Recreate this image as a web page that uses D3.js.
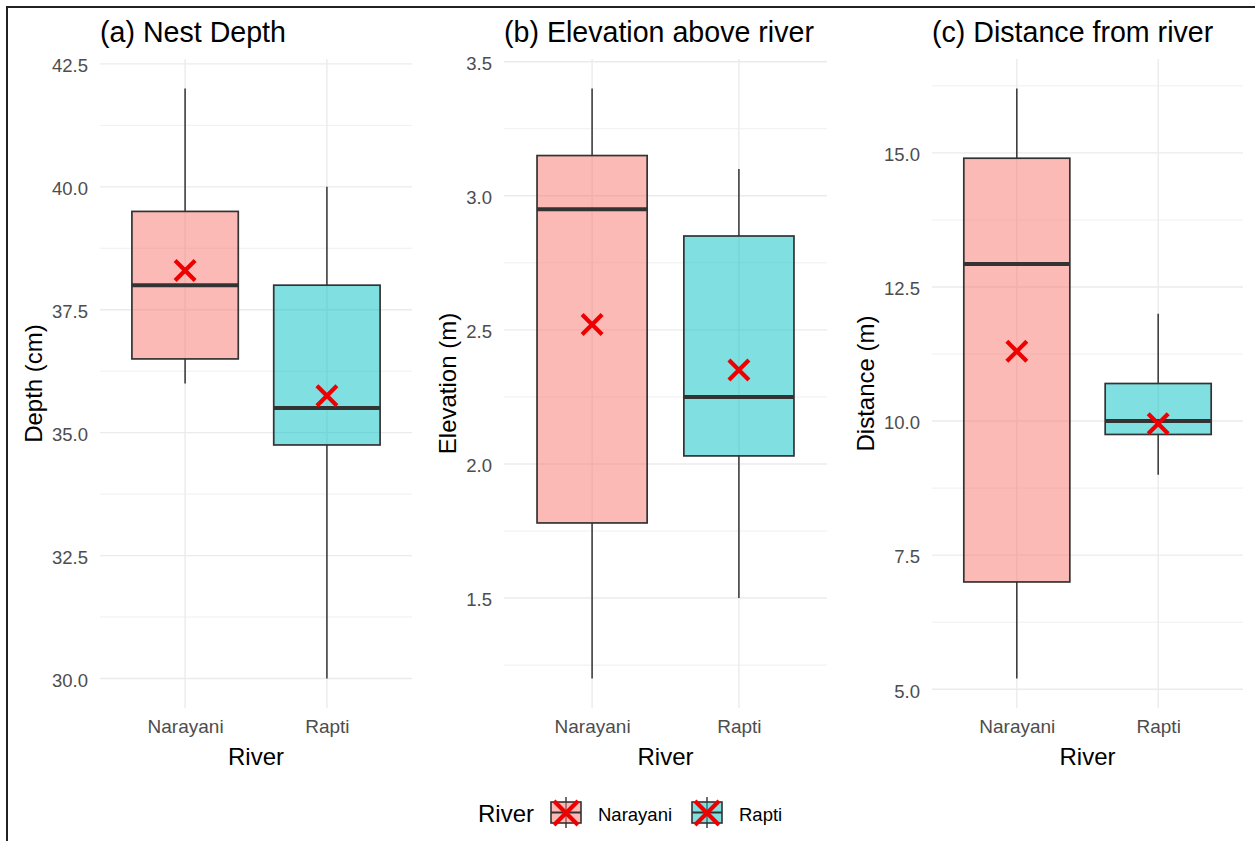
<!DOCTYPE html>
<html>
<head>
<meta charset="utf-8">
<script src="https://cdn.jsdelivr.net/npm/d3@7/dist/d3.min.js"></script>
<style>
  html, body { margin: 0; padding: 0; background: #fff; }
  svg { display: block; font-family: "Liberation Sans", Arial, sans-serif; }
</style>
</head>
<body>
<div id="chart"></div>
<script>
/* ---- data -------------------------------------------------------------- */
const rivers = ['Narayani', 'Rapti'];

// [lower whisker, Q1, median, Q3, upper whisker]
const depthBox = [[36, 36.5, 38.0, 39.5, 42], [30, 34.75, 35.5, 38.0, 40]];
const depthMean = [38.3, 35.75];
const depthTicks = [30, 32.5, 35, 37.5, 40, 42.5];

const elevBox = [[1.2, 1.78, 2.95, 3.15, 3.4], [1.5, 2.03, 2.25, 2.85, 3.1]];
const elevMean = [2.52, 2.35];
const elevTicks = [1.5, 2.0, 2.5, 3.0, 3.5];

const distBox = [[5.2, 7.0, 12.93, 14.9, 16.2], [9.0, 9.75, 10.0, 10.7, 12.0]];
const distMean = [11.3, 9.95];
const distTicks = [5.0, 7.5, 10.0, 12.5, 15.0];

const panelTitles = ['(a) Nest Depth', '(b) Elevation above river', '(c) Distance from river'];
const yTitles = ['Depth (cm)', 'Elevation (m)', 'Distance (m)'];

/* ---- look ---------------------------------------------------------------- */
const W = 1255, H = 841;
const fills = ['#F8766D', '#00BFC4'];
const ink = '#333333';
const grid = '#ebebeb';
const markRed = '#ee0000';
const plotTop = 59, plotBottom = 708;
const frames = [[100, 412], [504, 827], [932, 1243]];

const svg = d3.select('#chart').append('svg').attr('width', W).attr('height', H);
svg.append('rect').attr('width', W).attr('height', H).attr('fill', '#fff');

/* outer frame (only left/top edges are in view) */
svg.append('rect').attr('x', 7).attr('y', 7).attr('width', 1400).attr('height', 1000)
  .attr('fill', 'none').attr('stroke', '#222').attr('stroke-width', 2);

function cross(g, cx, cy, r, w) {
  g.append('path')
    .attr('d', 'M' + (cx - r) + ',' + (cy - r) + 'L' + (cx + r) + ',' + (cy + r) +
               'M' + (cx - r) + ',' + (cy + r) + 'L' + (cx + r) + ',' + (cy - r))
    .attr('stroke', markRed).attr('stroke-width', w).attr('fill', 'none');
}

function drawPanel(i, boxes, means, ticks) {
  const x0 = frames[i][0], x1 = frames[i][1];
  const g = svg.append('g');

  const lo = d3.min(boxes, d => d[0]), hi = d3.max(boxes, d => d[4]);
  const pad = (hi - lo) * 0.05;
  const y = d3.scaleLinear().domain([lo - pad, hi + pad]).range([plotBottom, plotTop]);
  const x = d3.scalePoint().domain(rivers).range([x0, x1]).padding(0.6);
  const bw = x.step() * 0.75;

  /* minor grid: midpoints between major breaks, inside the domain */
  const step = ticks[1] - ticks[0];
  const minor = d3.range(ticks[0] - step / 2, ticks[ticks.length - 1] + step, step)
    .filter(v => v >= y.domain()[0] && v <= y.domain()[1]);
  g.selectAll('line.minor').data(minor).join('line')
    .attr('x1', x0).attr('x2', x1).attr('y1', d => y(d)).attr('y2', d => y(d))
    .attr('stroke', grid).attr('stroke-width', 0.8);
  g.selectAll('line.major').data(ticks).join('line')
    .attr('x1', x0).attr('x2', x1).attr('y1', d => y(d)).attr('y2', d => y(d))
    .attr('stroke', grid).attr('stroke-width', 1.4);
  g.selectAll('line.vmajor').data(rivers).join('line')
    .attr('x1', d => x(d)).attr('x2', d => x(d)).attr('y1', plotTop).attr('y2', plotBottom)
    .attr('stroke', grid).attr('stroke-width', 1.4);

  /* y axis via d3.axisLeft, styled ggplot-like */
  const ya = g.append('g').attr('transform', 'translate(' + x0 + ',0)')
    .call(d3.axisLeft(y).tickValues(ticks).tickFormat(d3.format('.1f')).tickSize(0).tickPadding(12));
  ya.select('.domain').remove();
  ya.selectAll('text').attr('font-size', 18.5).attr('fill', '#4d4d4d')
    .attr('font-family', '"Liberation Sans", Arial, sans-serif').attr('dy', '0.42em');

  const xa = g.append('g').attr('transform', 'translate(0,' + plotBottom + ')')
    .call(d3.axisBottom(x).tickSize(0).tickPadding(0));
  xa.select('.domain').remove();
  xa.selectAll('text').attr('font-size', 19).attr('fill', '#4d4d4d')
    .attr('font-family', '"Liberation Sans", Arial, sans-serif').attr('dy', null).attr('y', 25);

  /* boxes */
  const b = g.selectAll('g.box').data(boxes).join('g');
  b.append('line')
    .attr('x1', (d, k) => x(rivers[k])).attr('x2', (d, k) => x(rivers[k]))
    .attr('y1', d => y(d[4])).attr('y2', d => y(d[3]))
    .attr('stroke', ink).attr('stroke-width', 1.5);
  b.append('line')
    .attr('x1', (d, k) => x(rivers[k])).attr('x2', (d, k) => x(rivers[k]))
    .attr('y1', d => y(d[1])).attr('y2', d => y(d[0]))
    .attr('stroke', ink).attr('stroke-width', 1.5);
  b.append('rect')
    .attr('x', (d, k) => x(rivers[k]) - bw / 2).attr('width', bw)
    .attr('y', d => y(d[3])).attr('height', d => y(d[1]) - y(d[3]))
    .attr('fill', (d, k) => fills[k]).attr('fill-opacity', 0.5)
    .attr('stroke', ink).attr('stroke-width', 1.7);
  b.append('line')
    .attr('x1', (d, k) => x(rivers[k]) - bw / 2).attr('x2', (d, k) => x(rivers[k]) + bw / 2)
    .attr('y1', d => y(d[2])).attr('y2', d => y(d[2]))
    .attr('stroke', ink).attr('stroke-width', 4);

  means.forEach((m, k) => cross(g, x(rivers[k]), y(m), 10, 4.2));

  /* titles */
  g.append('text').attr('x', x0).attr('y', 42).attr('font-size', 28.6).attr('fill', '#000')
    .text(panelTitles[i]);
  g.append('text').attr('x', (x0 + x1) / 2).attr('y', 765).attr('text-anchor', 'middle')
    .attr('font-size', 24).attr('fill', '#000').text('River');

  let labW = 0;
  ya.selectAll('text').each(function () { labW = Math.max(labW, this.getComputedTextLength()); });
  const tx = x0 - 12 - labW - 10;
  g.append('text').attr('transform', 'translate(' + tx + ',' + (plotTop + plotBottom) / 2 + ') rotate(-90)')
    .attr('text-anchor', 'middle').attr('font-size', 24).attr('fill', '#000')
    .text(yTitles[i]);
}

drawPanel(0, depthBox, depthMean, depthTicks);
drawPanel(1, elevBox, elevMean, elevTicks);
drawPanel(2, distBox, distMean, distTicks);

/* ---- legend ------------------------------------------------------------- */
const lg = svg.append('g');
lg.append('text').attr('x', 478).attr('y', 822).attr('font-size', 24).attr('fill', '#000').text('River');
const keyX = [551, 692], labX = [598, 739];
rivers.forEach((r, k) => {
  const kx = keyX[k], cx = kx + 15;
  lg.append('line').attr('x1', cx).attr('x2', cx).attr('y1', 797).attr('y2', 828)
    .attr('stroke', ink).attr('stroke-width', 1.4);
  lg.append('rect').attr('x', kx).attr('y', 802).attr('width', 30).attr('height', 21)
    .attr('fill', fills[k]).attr('fill-opacity', 0.5).attr('stroke', ink).attr('stroke-width', 1.6);
  lg.append('line').attr('x1', kx).attr('x2', kx + 30).attr('y1', 812.5).attr('y2', 812.5)
    .attr('stroke', ink).attr('stroke-width', 2);
  cross(lg, cx, 813, 12, 4.2);
  lg.append('text').attr('x', labX[k]).attr('y', 821).attr('font-size', 18.5).attr('fill', '#000').text(r);
});
</script>
</body>
</html>
